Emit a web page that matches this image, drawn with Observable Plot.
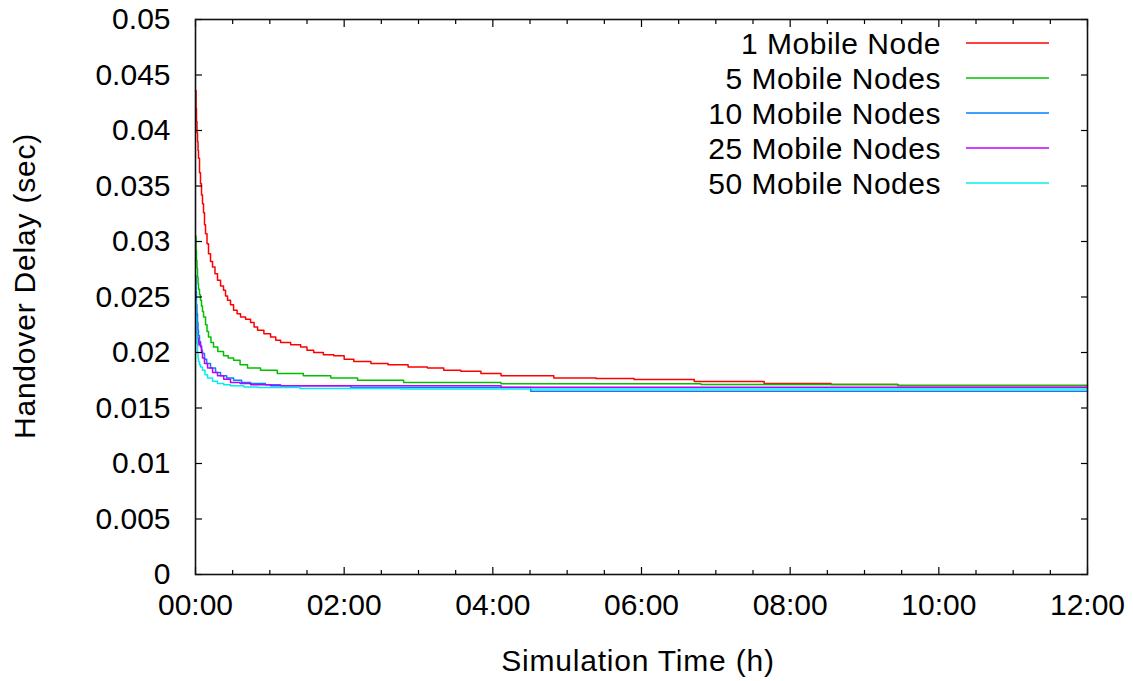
<!DOCTYPE html>
<html><head><meta charset="utf-8">
<script src="https://cdn.jsdelivr.net/npm/d3@7"></script>
<script src="https://cdn.jsdelivr.net/npm/@observablehq/plot@0.6"></script>
<style>
body{margin:0;background:#fff;font-family:"Liberation Sans",Arial,sans-serif;}
#wrap{position:relative;width:1133px;height:681px;overflow:hidden;}
#wrap svg{position:absolute;left:0;top:0;}
.lbl{position:absolute;font-size:30px;color:#000;white-space:nowrap;line-height:32px;letter-spacing:0.8px;}
</style></head><body><div id="wrap"></div>
<script>
// Series names and colours
const seriesNames = ["1 Mobile Node", "5 Mobile Nodes", "10 Mobile Nodes", "25 Mobile Nodes", "50 Mobile Nodes"];
const seriesColors = ["#ff0000", "#00c000", "#0080ff", "#c000ff", "#00eeee"];

// [hours, handover delay (sec)]
const node1 = [[0,0.0436],[0.007,0.0420],[0.013,0.0408],[0.020,0.0398],[0.027,0.0390],[0.034,0.0382],[0.040,0.0375],[0.054,0.0362],[0.067,0.0352],[0.081,0.0342],[0.094,0.0334],[0.108,0.0326],[0.121,0.0315],[0.135,0.0307],[0.155,0.0298],[0.175,0.0289],[0.202,0.0282],[0.229,0.0277],[0.262,0.0271],[0.296,0.0265],[0.337,0.0260],[0.377,0.0256],[0.404,0.0251],[0.431,0.0247],[0.471,0.0243],[0.512,0.0238],[0.560,0.0235],[0.606,0.0232],[0.674,0.0230],[0.741,0.0227],[0.788,0.0223],[0.835,0.0220],[0.92,0.0217],[1.01,0.0214],[1.08,0.0211],[1.145,0.0209],[1.28,0.0207],[1.414,0.0205],[1.50,0.0202],[1.59,0.0200],[1.72,0.0198],[1.86,0.0197],[2.0,0.0194],[2.13,0.0192],[2.36,0.0190],[2.59,0.0189],[2.86,0.0187],[3.12,0.0186],[3.34,0.0184],[3.57,0.0183],[3.84,0.0181],[4.11,0.0179],[4.82,0.0177],[5.39,0.01766],[5.90,0.01757],[6.71,0.01739],[7.65,0.01721],[8.55,0.01712],[9.45,0.01703],[12,0.01703]];
const node5 = [[0,0.0305],[0.007,0.0292],[0.013,0.0283],[0.020,0.0276],[0.027,0.0268],[0.034,0.0262],[0.040,0.0257],[0.054,0.0252],[0.067,0.0247],[0.081,0.0242],[0.094,0.0237],[0.108,0.0232],[0.135,0.0225],[0.155,0.0219],[0.175,0.0214],[0.208,0.0209],[0.242,0.0205],[0.30,0.0201],[0.377,0.0197],[0.44,0.0195],[0.512,0.0193],[0.60,0.0189],[0.700,0.0186],[0.875,0.0184],[1.10,0.0181],[1.45,0.0179],[1.82,0.0177],[2.18,0.0175],[2.80,0.0173],[4.11,0.01718],[6.80,0.01712],[9.45,0.01703],[12,0.01703]];
const node10 = [[0,0.0269],[0.007,0.0255],[0.013,0.0243],[0.020,0.0235],[0.027,0.0227],[0.034,0.0220],[0.040,0.0215],[0.054,0.0210],[0.067,0.0206],[0.081,0.0202],[0.094,0.0199],[0.121,0.0194],[0.15,0.0190],[0.202,0.0186],[0.27,0.0182],[0.337,0.0179],[0.42,0.0177],[0.512,0.0175],[0.62,0.0173],[0.741,0.0172],[0.94,0.0171],[1.145,0.0170],[2.09,0.01685],[4.51,0.01651],[12,0.01651]];
const node25 = [[0,0.0241],[0.007,0.0232],[0.013,0.0225],[0.020,0.0218],[0.027,0.0213],[0.040,0.0207],[0.054,0.0209],[0.067,0.0205],[0.081,0.0200],[0.094,0.0195],[0.121,0.0190],[0.162,0.0186],[0.23,0.0182],[0.296,0.0179],[0.38,0.0176],[0.471,0.0173],[0.60,0.0172],[0.741,0.0171],[1.01,0.0170],[4.11,0.01687],[12,0.01687]];
const node50 = [[0,0.0247],[0.007,0.0232],[0.013,0.0220],[0.020,0.0208],[0.027,0.0200],[0.034,0.0195],[0.040,0.0192],[0.054,0.0189],[0.067,0.0187],[0.094,0.0184],[0.128,0.0180],[0.162,0.0177],[0.23,0.0174],[0.296,0.0172],[0.38,0.0171],[0.471,0.0170],[0.65,0.0169],[0.835,0.01685],[1.41,0.01676],[2.76,0.01671],[12,0.01671]];
const allSeries = [node1, node5, node10, node25, node50];

// Tick values and labels
const xMajorTicks = [0, 2, 4, 6, 8, 10, 12];
const xTickLabels = ["00:00", "02:00", "04:00", "06:00", "08:00", "10:00", "12:00"];
const xMinorTicks = [0.5, 1, 1.5, 2.5, 3, 3.5, 4.5, 5, 5.5, 6.5, 7, 7.5, 8.5, 9, 9.5, 10.5, 11, 11.5];
const yTicks = [0, 0.005, 0.01, 0.015, 0.02, 0.025, 0.03, 0.035, 0.04, 0.045, 0.05];
const yTickLabels = ["0", "0.005", "0.01", "0.015", "0.02", "0.025", "0.03", "0.035", "0.04", "0.045", "0.05"];

const xFmt = d => xTickLabels[xMajorTicks.indexOf(d)];
const yFmt = d => yTickLabels[yTicks.indexOf(d)];
const blank = () => "";

const marks = [];
allSeries.forEach((s, i) => {
  marks.push(Plot.line(s, {x: d => d[0], y: d => d[1], stroke: seriesColors[i], strokeWidth: 1.5, curve: "step-after"}));
});
// inward ticks on all four sides
marks.push(
  Plot.axisX({anchor: "bottom", ticks: xMajorTicks, tickSize: -7, tickFormat: blank, label: null, strokeWidth: 1.2}),
  Plot.axisX({anchor: "bottom", ticks: xMinorTicks, tickSize: -4, tickFormat: blank, label: null, strokeWidth: 1.2}),
  Plot.axisX({anchor: "top", ticks: xMajorTicks, tickSize: -7, tickFormat: blank, label: null, strokeWidth: 1.2}),
  Plot.axisX({anchor: "top", ticks: xMinorTicks, tickSize: -4, tickFormat: blank, label: null, strokeWidth: 1.2}),
  Plot.axisY({anchor: "left", ticks: yTicks, tickSize: -7, tickFormat: blank, label: null, strokeWidth: 1.2}),
  Plot.axisY({anchor: "right", ticks: yTicks, tickSize: -7, tickFormat: blank, label: null, strokeWidth: 1.2}),
  Plot.axisX({anchor: "bottom", ticks: xMajorTicks, tickSize: 0, tickPadding: 19, tickFormat: xFmt, label: null, fontSize: 30}),
  Plot.axisY({anchor: "left", ticks: yTicks, tickSize: 0, tickPadding: 25, tickFormat: yFmt, label: null, fontSize: 30}),
  Plot.frame({stroke: "#111", strokeWidth: 1.6})
);

const chart = Plot.plot({
  width: 1133,
  height: 681,
  marginLeft: 195,
  marginRight: 46,
  marginTop: 19,
  marginBottom: 107,
  style: {fontFamily: "'Liberation Sans', Arial, sans-serif", fontSize: "30px", color: "#000", background: "#fff"},
  x: {domain: [0, 12], axis: null},
  y: {domain: [0, 0.05], axis: null},
  marks
});
const wrap = document.getElementById("wrap");
wrap.appendChild(chart);

// axis titles
const xl = document.createElement("div");
xl.className = "lbl"; xl.textContent = "Simulation Time (h)";
xl.style.left = "638px"; xl.style.top = "661px"; xl.style.transform = "translate(-50%,-50%)";
wrap.appendChild(xl);
const yl = document.createElement("div");
yl.className = "lbl"; yl.textContent = "Handover Delay (sec)";
yl.style.left = "25px"; yl.style.top = "286px"; yl.style.transform = "translate(-50%,-50%) rotate(-90deg)";
wrap.appendChild(yl);

// legend inside plot (top-right), overlay svg
const leg = d3.create("svg").attr("width", 1133).attr("height", 681).style("pointer-events", "none");
seriesNames.forEach((name, i) => {
  const y = 43 + i * 35;
  leg.append("text").attr("x", 941).attr("y", y).attr("dy", "0.36em").attr("text-anchor", "end")
    .attr("font-family", "'Liberation Sans', Arial, sans-serif").attr("font-size", 30).attr("letter-spacing", 0.5)
    .attr("fill", "#000").text(name);
  leg.append("line").attr("x1", 966).attr("x2", 1049).attr("y1", y).attr("y2", y)
    .attr("stroke", seriesColors[i]).attr("stroke-width", 1.5);
});
wrap.appendChild(leg.node());
</script>
</body></html>
